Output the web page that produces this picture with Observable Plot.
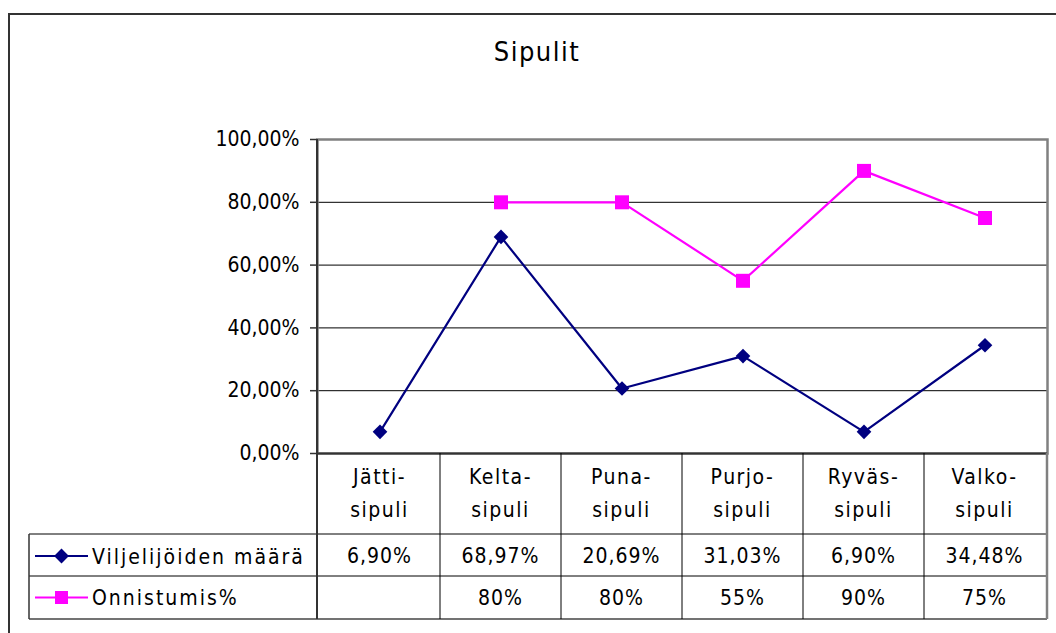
<!DOCTYPE html>
<html>
<head>
<meta charset="utf-8">
<script src="https://cdn.jsdelivr.net/npm/d3@7"></script>
<script src="https://cdn.jsdelivr.net/npm/@observablehq/plot@0.6"></script>
<style>
  html, body { margin: 0; padding: 0; background: #fff; }
  #wrap { position: relative; width: 1056px; height: 633px; overflow: hidden;
          font-family: "DejaVu Sans Condensed", "Liberation Sans", sans-serif; }
  #outer { position: absolute; left: 8px; top: 13px; width: 1200px; height: 800px;
           border-left: 2px solid #333; border-top: 2px solid #333; }
  #title { position: absolute; left: 0; width: 1074px; top: 36px; text-align: center;
           font-size: 27px; letter-spacing: 1.5px; color: #000; }
  #chart { position: absolute; left: 0; top: 0; }
</style>
</head>
<body>
<div id="wrap">
  <div id="outer"></div>
  <div id="title">Sipulit</div>
  <div id="chart"></div>
</div>
<script>
// ---- data ----
const categories = ["Jätti-\nsipuli", "Kelta-\nsipuli", "Puna-\nsipuli", "Purjo-\nsipuli", "Ryväs-\nsipuli", "Valko-\nsipuli"];
const viljelijat = [0.0690, 0.6897, 0.2069, 0.3103, 0.0690, 0.3448];
const onnistumis = [null, 0.80, 0.80, 0.55, 0.90, 0.75];
const seriesNames = ["Viljelijöiden määrä", "Onnistumis%"];
const tableViljelijat = ["6,90%", "68,97%", "20,69%", "31,03%", "6,90%", "34,48%"];
const tableOnnistumis = ["", "80%", "80%", "55%", "90%", "75%"];
const yTicks = [0, 0.2, 0.4, 0.6, 0.8, 1.0];

const navy = "#000080", magenta = "#FF00FF";
const FONT = '"DejaVu Sans Condensed", "Liberation Sans", sans-serif';
const FS = 21;
const fmt = d => d3.format(".2f")(d * 100).replace(".", ",") + "%";

const rows1 = categories.map((c, i) => ({c, v: viljelijat[i]}));
const rows2 = categories.map((c, i) => ({c, v: onnistumis[i]}));

const plot = Plot.plot({
  width: 1056, height: 633,
  marginLeft: 317, marginRight: 9, marginTop: 139, marginBottom: 180,
  style: {background: "transparent", fontFamily: FONT, fontSize: FS + "px", color: "#000", overflow: "visible"},
  x: {type: "band", domain: categories, padding: 0, axis: null},
  y: {domain: [0, 1], label: null},
  marks: [
    Plot.gridY(yTicks.slice(1, -1), {stroke: "#000", strokeOpacity: 1, strokeWidth: 1}),
    Plot.frame({stroke: "#808080", strokeWidth: 2.5}),
    Plot.axisY(yTicks, {tickFormat: fmt, tickSize: 7, tickPadding: 11, stroke: "#333", strokeWidth: 1.5,
                        fontSize: FS, fill: "#000", label: null, style: {letterSpacing: "0.5px"}}),
    Plot.ruleY([0], {stroke: "#333", strokeWidth: 2}),
    Plot.line(rows1, {x: "c", y: "v", stroke: navy, strokeWidth: 2.2}),
    Plot.dot(rows1, {x: "c", y: "v", symbol: "diamond2", r: 6.6, fill: navy, stroke: null}),
    Plot.line(rows2, {x: "c", y: "v", stroke: magenta, strokeWidth: 2.2}),
    Plot.dot(rows2, {x: "c", y: "v", symbol: "square", r: 7.9, fill: magenta, stroke: null})
  ]
});
document.getElementById("chart").appendChild(plot);

// ---- data table drawn from the plot's scales ----
const xs = plot.scale("x"), ys = plot.scale("y");
const bw = xs.bandwidth;
const first = xs.apply(categories[0]);
const isCenter = Math.abs(first - Math.min(...xs.range)) > bw / 4;
const bandStart = c => xs.apply(c) - (isCenter ? bw / 2 : 0);
const left = Math.min(...xs.range), right = Math.max(...xs.range);
const y0 = ys.apply(0), yTop = ys.apply(1);
const legendLeft = 29;
const rowH1 = 81, rowH2 = 42, rowH3 = 43;
const yHeadBottom = y0 + rowH1, yRow1Bottom = yHeadBottom + rowH2, yRow2Bottom = yRow1Bottom + rowH3;

const svg = d3.select(plot);
const g = svg.append("g").attr("font-family", FONT).attr("font-size", FS).attr("fill", "#000");
const hline = (x1, x2, y, col = "#000", w = 1) =>
  g.append("line").attr("x1", x1).attr("x2", x2).attr("y1", y).attr("y2", y).attr("stroke", col).attr("stroke-width", w);
const vline = (x, y1, y2, col = "#000", w = 1) =>
  g.append("line").attr("x1", x).attr("x2", x).attr("y1", y1).attr("y2", y2).attr("stroke", col).attr("stroke-width", w);

// horizontal lines
hline(legendLeft, right, yHeadBottom);
hline(legendLeft, right, yRow1Bottom);
hline(legendLeft, right, yRow2Bottom, "#444", 1.5);
// vertical lines
vline(left, yTop, yRow2Bottom, "#333", 2);
categories.forEach((c, i) => { if (i > 0) vline(bandStart(c), y0, yRow2Bottom); });
vline(right, y0, yRow2Bottom, "#808080", 2.5);
vline(legendLeft, yHeadBottom, yRow2Bottom, "#333", 1.5);

// category header text
categories.forEach(c => {
  const cx = bandStart(c) + bw / 2;
  const t = g.append("text").attr("text-anchor", "middle").attr("letter-spacing", 1.5);
  c.split("\n").forEach((line, k) => {
    t.append("tspan").attr("x", cx).attr("y", y0 + 31 + k * 33).text(line);
  });
});
// values
const valueRow = (vals, yMid) => vals.forEach((v, i) => {
  g.append("text").attr("x", bandStart(categories[i]) + bw / 2).attr("y", yMid).attr("dy", "0.36em")
   .attr("text-anchor", "middle").attr("letter-spacing", 1).text(v);
});
valueRow(tableViljelijat, (yHeadBottom + yRow1Bottom) / 2);
valueRow(tableOnnistumis, (yRow1Bottom + yRow2Bottom) / 2);

// legend keys
const keyRow = (name, color, symbol, yMid) => {
  g.append("line").attr("x1", 35).attr("x2", 88).attr("y1", yMid).attr("y2", yMid)
   .attr("stroke", color).attr("stroke-width", 2.2);
  g.append("path").attr("transform", `translate(61.5,${yMid})`)
   .attr("d", d3.symbol(symbol, symbol === d3.symbolSquare ? 170 : 140)()).attr("fill", color);
  g.append("text").attr("x", 92).attr("y", yMid).attr("dy", "0.36em").attr("text-anchor", "start")
   .attr("letter-spacing", 2).text(name);
};
keyRow(seriesNames[0], navy, d3.symbolDiamond2, (yHeadBottom + yRow1Bottom) / 2 + 1);
keyRow(seriesNames[1], magenta, d3.symbolSquare, (yRow1Bottom + yRow2Bottom) / 2);
</script>
</body>
</html>
